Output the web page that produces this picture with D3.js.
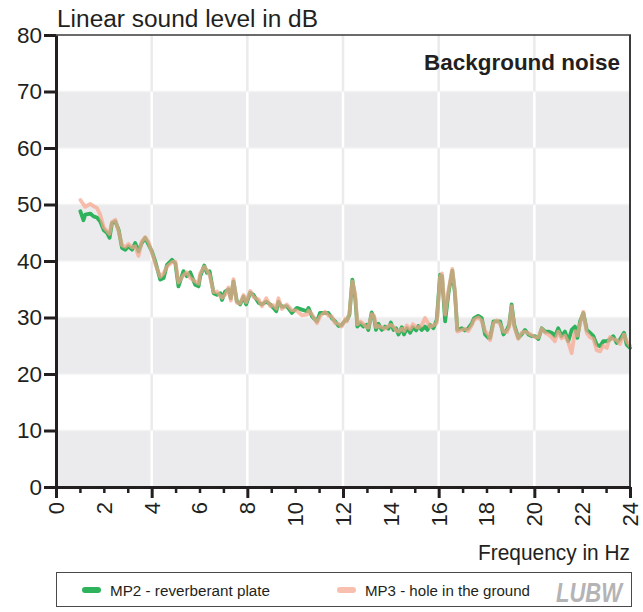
<!DOCTYPE html>
<html>
<head>
<meta charset="utf-8">
<script src="https://cdn.jsdelivr.net/npm/d3@7"></script>
<style>
  html, body { margin: 0; padding: 0; background: #fff; }
  svg { display: block; font-family: "Liberation Sans", Arial, sans-serif; }
</style>
</head>
<body>
<svg id="chart" width="643" height="612"></svg>
<script>
// ---------------- data ----------------
const freq = [1.02,1.15,1.22,1.43,1.57,1.71,1.85,1.99,2.13,2.24,2.34,2.48,2.62,2.76,2.90,3.03,3.18,3.31,3.45,3.59,3.73,3.87,4.01,4.15,4.36,4.50,4.64,4.85,4.99,5.12,5.33,5.47,5.61,5.82,5.96,6.03,6.20,6.31,6.42,6.59,6.73,6.87,6.94,7.07,7.21,7.31,7.42,7.56,7.70,7.84,7.95,8.12,8.26,8.47,8.61,8.79,8.96,9.09,9.21,9.30,9.44,9.65,9.86,10.07,10.28,10.49,10.56,10.70,10.91,11.04,11.25,11.39,11.53,11.67,11.81,11.95,12.09,12.16,12.27,12.39,12.51,12.60,12.72,12.85,12.97,13.06,13.20,13.30,13.38,13.48,13.62,13.76,13.90,14.00,14.11,14.22,14.32,14.46,14.55,14.67,14.81,14.92,15.06,15.15,15.29,15.43,15.53,15.64,15.78,15.92,16.06,16.14,16.27,16.41,16.57,16.68,16.78,16.97,17.10,17.24,17.38,17.48,17.66,17.80,17.94,18.08,18.15,18.29,18.43,18.57,18.71,18.85,18.95,19.05,19.16,19.33,19.47,19.61,19.75,19.89,20.03,20.17,20.31,20.45,20.59,20.73,20.86,21.00,21.14,21.28,21.42,21.56,21.70,21.80,21.91,22.05,22.19,22.33,22.47,22.61,22.75,22.88,23.03,23.16,23.30,23.44,23.58,23.75,23.86,24.00];

const mp2 = [48.8,47.2,48.2,48.4,47.9,47.7,47.0,45.5,45.0,44.1,46.7,47.0,45.5,42.3,42.0,42.6,42.0,43.2,41.7,43.2,44.1,42.9,41.7,39.9,36.7,37.0,39.3,40.2,39.6,35.5,38.2,37.3,38.0,35.8,35.5,37.3,39.2,37.9,38.2,34.3,34.0,34.3,33.1,34.6,35.0,33.4,36.4,32.9,32.3,33.7,32.3,34.4,34.0,32.6,32.3,32.8,32.3,31.7,31.1,32.8,31.9,32.0,30.8,31.7,31.4,31.1,31.7,30.2,29.3,30.8,30.8,30.8,29.9,29.3,28.5,28.7,29.5,29.5,30.5,36.7,33.5,28.4,29.0,28.4,28.7,27.8,30.9,29.9,27.8,28.9,27.8,28.4,28.0,29.1,27.8,28.1,27.0,28.3,27.0,28.1,27.3,28.3,27.7,28.5,27.8,28.4,27.8,28.7,28.1,29.6,37.6,37.3,29.3,34.3,38.3,34.3,27.8,28.1,27.7,28.1,28.9,29.9,30.3,29.9,27.0,26.4,26.4,29.3,29.3,29.3,27.0,27.8,28.7,32.3,28.7,26.4,27.0,27.8,27.0,26.7,26.7,26.2,28.1,27.5,27.5,27.3,26.7,28.1,26.7,27.5,25.8,27.8,28.4,26.4,29.3,30.8,27.8,27.3,26.7,25.2,24.9,25.8,25.8,26.1,26.7,25.5,26.1,27.3,25.2,24.6];

const mp3 = [50.8,50.0,49.6,50.1,49.7,49.4,48.2,46.0,45.3,44.8,46.9,47.3,45.2,42.8,42.5,43.0,42.4,42.6,40.9,43.5,44.2,43.4,41.5,39.5,37.2,37.8,39.0,39.8,39.9,36.2,37.5,38.0,37.0,36.4,36.0,37.8,39.0,38.4,37.5,34.5,34.6,33.8,33.5,34.0,35.3,33.0,36.8,32.6,32.5,34.0,32.7,34.7,33.6,33.2,32.0,33.4,32.0,32.2,31.6,33.4,31.5,32.3,31.3,31.2,30.4,30.5,31.2,30.6,29.0,30.2,31.0,30.3,30.2,29.0,28.9,28.4,29.8,29.3,30.8,36.4,34.2,28.8,29.3,28.9,28.3,28.2,30.6,30.3,28.3,28.5,28.3,28.0,28.5,28.7,28.4,27.7,27.5,28.0,27.6,28.6,27.9,28.8,28.3,28.2,28.6,29.9,29.2,28.3,28.6,29.0,37.2,37.8,30.5,34.8,38.6,34.8,27.5,27.8,28.0,27.6,28.6,29.6,30.0,29.4,27.6,26.9,26.0,29.0,29.5,28.8,27.5,27.4,28.4,32.0,28.4,26.2,27.3,27.5,27.2,26.9,26.5,26.5,28.0,27.3,27.0,26.5,25.8,27.5,26.3,26.8,25.6,23.7,27.6,26.8,28.9,31.0,27.3,26.5,26.2,24.2,24.0,25.0,24.6,26.5,26.2,26.0,25.3,27.0,25.8,25.0];

const yTicks = [0,10,20,30,40,50,60,70,80];
const xTicks = [0,1,2,3,4,5,6,7,8,9,10,11,12,13,14,15,16,17,18,19,20,21,22,23,24];
const xLabelTicks = [0,2,4,6,8,10,12,14,16,18,20,22,24];
const xGridTicks = [4,8,12,16,20];
const bandStarts = [0,20,40,60];
const seriesNames = ["MP2 - reverberant plate", "MP3 - hole in the ground"];
const titleText = "Linear sound level in dB";
const xTitleText = "Frequency in Hz";
const panelText = "Background noise";

// ---------------- layout ----------------
const svg = d3.select("#chart");
const L = 56, R = 630, T = 35, B = 487;
const x = d3.scaleLinear().domain([0, 24]).range([L, R]);
const y = d3.scaleLinear().domain([0, 80]).range([B, T]);
const dark = "#231f20";
const green = "#2eb35c";
const salmon = "#f6a58c";

// bands
svg.append("g").selectAll("rect").data(bandStarts).join("rect")
  .attr("x", L).attr("width", R - L)
  .attr("y", d => y(d + 10)).attr("height", d => y(d) - y(d + 10))
  .attr("fill", "#ebebed");

// vertical grid, white on grey bands, light grey on white bands
const segs = [];
xGridTicks.forEach(t => { for (let v = 0; v < 80; v += 10) segs.push({t, v}); });
svg.append("g").selectAll("line").data(segs).join("line")
  .attr("x1", d => x(d.t)).attr("x2", d => x(d.t))
  .attr("y1", d => y(d.v)).attr("y2", d => y(d.v + 10))
  .attr("stroke", d => bandStarts.includes(d.v) ? "#ffffff" : "#ebebed")
  .attr("stroke-width", 2.5);

// faint horizontal lines at band edges
svg.append("g").selectAll("line").data(yTicks.slice(1, -1)).join("line")
  .attr("x1", L).attr("x2", R).attr("y1", d => y(d)).attr("y2", d => y(d))
  .attr("stroke", "#f3f3f4").attr("stroke-width", 1.5);

// series lines
const line = d3.line().x((d, i) => x(freq[i])).y(d => y(d));
svg.append("path").datum(mp2).attr("d", line)
  .attr("fill", "none").attr("stroke", green).attr("stroke-width", 3.8)
  .attr("stroke-linejoin", "round").attr("stroke-linecap", "round");
svg.append("path").datum(mp3).attr("d", line)
  .attr("fill", "none").attr("stroke", salmon).attr("stroke-width", 3.8)
  .attr("stroke-opacity", 0.72)
  .attr("stroke-linejoin", "round").attr("stroke-linecap", "round");

// frame top & right
svg.append("line").attr("x1", L).attr("x2", R + 1).attr("y1", T).attr("y2", T)
  .attr("stroke", "#3a3a3a").attr("stroke-width", 1.5);
svg.append("line").attr("x1", R).attr("x2", R).attr("y1", T).attr("y2", B)
  .attr("stroke", "#3a3a3a").attr("stroke-width", 2);

// y axis
const yAxis = svg.append("g").attr("transform", `translate(${L},0)`)
  .call(d3.axisLeft(y).tickValues(yTicks).tickSize(12).tickPadding(2).tickSizeOuter(0));
yAxis.select(".domain").attr("stroke", dark).attr("stroke-width", 3);
yAxis.selectAll(".tick line").attr("stroke", dark).attr("stroke-width", 3);
yAxis.selectAll(".tick text").attr("fill", dark).attr("font-size", 22.5)
  .attr("font-family", "Liberation Sans, Arial, sans-serif");

// x axis
const xAxis = svg.append("g").attr("transform", `translate(0,${B})`)
  .call(d3.axisBottom(x).tickValues(xTicks).tickSize(6).tickFormat("").tickSizeOuter(0));
xAxis.select(".domain").attr("stroke", dark).attr("stroke-width", 3);
xAxis.selectAll(".tick line")
  .attr("stroke", dark)
  .attr("y2", d => d % 4 === 0 ? 11 : 6)
  .attr("stroke-width", d => d % 4 === 0 ? 3 : 2.5);
svg.append("g").selectAll("text").data(xLabelTicks).join("text")
  .attr("transform", d => `translate(${x(d)},${B + 15}) rotate(-90)`)
  .attr("text-anchor", "end").attr("dy", "0.36em")
  .attr("font-size", 22).attr("fill", dark)
  .text(d => d);

// titles
svg.append("text").attr("x", 57).attr("y", 27).attr("font-size", 23.5)
  .attr("fill", dark).attr("textLength", 261).attr("lengthAdjust", "spacingAndGlyphs")
  .text(titleText);
svg.append("text").attr("x", 620).attr("y", 70).attr("font-size", 22.5).attr("font-weight", "bold")
  .attr("text-anchor", "end").attr("fill", dark)
  .attr("textLength", 196).attr("lengthAdjust", "spacingAndGlyphs")
  .text(panelText);
svg.append("text").attr("x", 630).attr("y", 560).attr("font-size", 21.5)
  .attr("text-anchor", "end").attr("fill", dark)
  .attr("textLength", 152).attr("lengthAdjust", "spacingAndGlyphs")
  .text(xTitleText);

// legend
const lg = svg.append("g");
lg.append("rect").attr("x", 56.5).attr("y", 572.5).attr("width", 575).attr("height", 34)
  .attr("fill", "#fff").attr("stroke", "#4a4a4a").attr("stroke-width", 1);
const items = [{name: seriesNames[0], color: green, x0: 82, tl: 160},
               {name: seriesNames[1], color: "#f9bfae", x0: 337, tl: 165}];
items.forEach(it => {
  lg.append("line").attr("x1", it.x0 + 3).attr("x2", it.x0 + 16).attr("y1", 590).attr("y2", 590)
    .attr("stroke", it.color).attr("stroke-width", 6).attr("stroke-linecap", "round");
  lg.append("text").attr("x", it.x0 + 28).attr("y", 595.5).attr("font-size", 15.5)
    .attr("fill", dark).attr("textLength", it.tl).attr("lengthAdjust", "spacingAndGlyphs")
    .text(it.name);
});
lg.append("text").attr("x", 556).attr("y", 602).attr("font-size", 27)
  .attr("font-weight", "bold").attr("font-style", "italic").attr("fill", "#b4b4b6")
  .attr("textLength", 66).attr("lengthAdjust", "spacingAndGlyphs")
  .text("LUBW");
</script>
</body>
</html>
